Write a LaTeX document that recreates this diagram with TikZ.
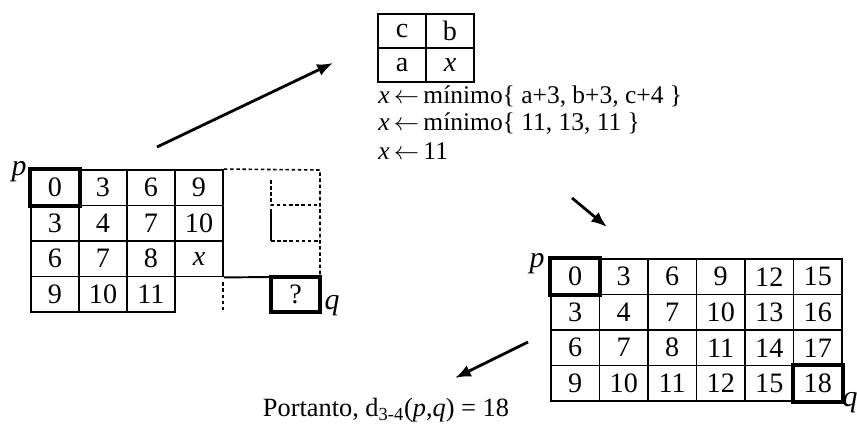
\documentclass[tikz,border=0pt]{standalone}
\usepackage{fontspec}
\setmainfont{Liberation Serif}
\usetikzlibrary{arrows.meta}

\tikzset{
  cell/.style={draw, line width=1.1pt, minimum width=0.96cm, minimum height=0.71cm, inner sep=0pt, anchor=center, font=\fontsize{16}{18}\selectfont},
  boldcell/.style={line width=2.3pt},
  guide/.style={line width=0.9pt, dash pattern=on 2pt off 1.5pt},
  eqline/.style={anchor=west, inner sep=0pt, font=\fontsize{14.5}{17}\selectfont},
  movearrow/.style={line width=1.6pt, -{Latex[length=9pt,width=7pt]}}
}

\begin{document}
\begin{tikzpicture}[x=0.02cm, y=-0.02cm, font=\fontsize{15}{18}\selectfont]
    \useasboundingbox (0,0) rectangle (857,425);

    % --- partial table ---
    \foreach \row [count=\r from 0] in {{0,3,6,9},{3,4,7,10},{6,7,8,\textit{x}},{9,10,11}} {
        \foreach \v [count=\c from 0] in \row {
            \node[cell] (L-\r-\c) at ({55+48*\c},{187.75+35.5*\r}) {\v};
        }
    }
    \draw[boldcell] (L-0-0.north west) rectangle (L-0-0.south east);
    \node[font=\fontsize{17}{18}\selectfont] (pL) at (19,172) {\textit{p}};

    \coordinate (tr) at (320,170);
    \coordinate (mr) at (320,276.5);
    \draw[line width=1.1pt] (L-2-3.south east) -- (mr);
    \draw[guide] (L-0-3.north east) -- (tr) -- (mr);
    \draw[guide] (271,180) -- (271,205) -- (320,205);
    \draw[line width=1pt] (271,209) -- (271,241);
    \draw[guide] (271,241) -- (318,241);
    \draw[guide] (L-3-2.east) ++(47,-12) -- ++(0,30);

    \node[cell, boldcell, minimum width=0.98cm, minimum height=0.70cm] (ask) at (295.5,294.25) {?};
    \node[font=\fontsize{17}{18}\selectfont] (qL) at (332,306) {\textit{q}};

    % --- neighbourhood mask ---
    \foreach \row [count=\r from 0] in {{c,b},{a,\textit{x}}} {
        \foreach \v [count=\c from 0] in \row {
            \node[cell, minimum height=0.68cm] (M-\r-\c) at ({402+48*\c},{31+34*\r}) {\v};
        }
    }
    \node[eqline] (eq1) at (378,97) {\textit{x}\,$\leftarrow$\,mínimo\{ a+3, b+3, c+4 \}};
    \node[eqline] (eq2) at (378,124) {\textit{x}\,$\leftarrow$\,mínimo\{ 11, 13, 11 \}};
    \node[eqline] (eq3) at (378,151) {\textit{x}\,$\leftarrow$\,11};

    % --- full table ---
    \foreach \row [count=\r from 0] in {{0,3,6,9,12,15},{3,4,7,10,13,16},{6,7,8,11,14,17},{9,10,11,12,15,18}} {
        \foreach \v [count=\c from 0] in \row {
            \node[cell, minimum width=0.97cm] (R-\r-\c) at ({575.25+48.5*\c},{276.75+35.5*\r}) {\v};
        }
    }
    \draw[boldcell] (R-0-0.north west) rectangle (R-0-0.south east);
    \draw[boldcell] (R-3-5.north west) rectangle (R-3-5.south east);
    \node[font=\fontsize{17}{18}\selectfont] (pR) at (537,264) {\textit{p}};
    \node[font=\fontsize{17}{18}\selectfont] (qR) at (850,403) {\textit{q}};

    \node (res) at (386,410) {Portanto, d\textsubscript{3-4}(\textit{p},\textit{q}) = 18};

    % --- arrows ---
    \coordinate (a1s) at (157,147); \coordinate (a1e) at (333,63);
    \coordinate (a2s) at (572,198); \coordinate (a2e) at (607,227);
    \coordinate (a3s) at (528,342); \coordinate (a3e) at (455,378);
    \draw[movearrow] (a1s) -- (a1e);
    \draw[movearrow] (a2s) -- (a2e);
    \draw[movearrow] (a3s) -- (a3e);
\end{tikzpicture}
\end{document}
